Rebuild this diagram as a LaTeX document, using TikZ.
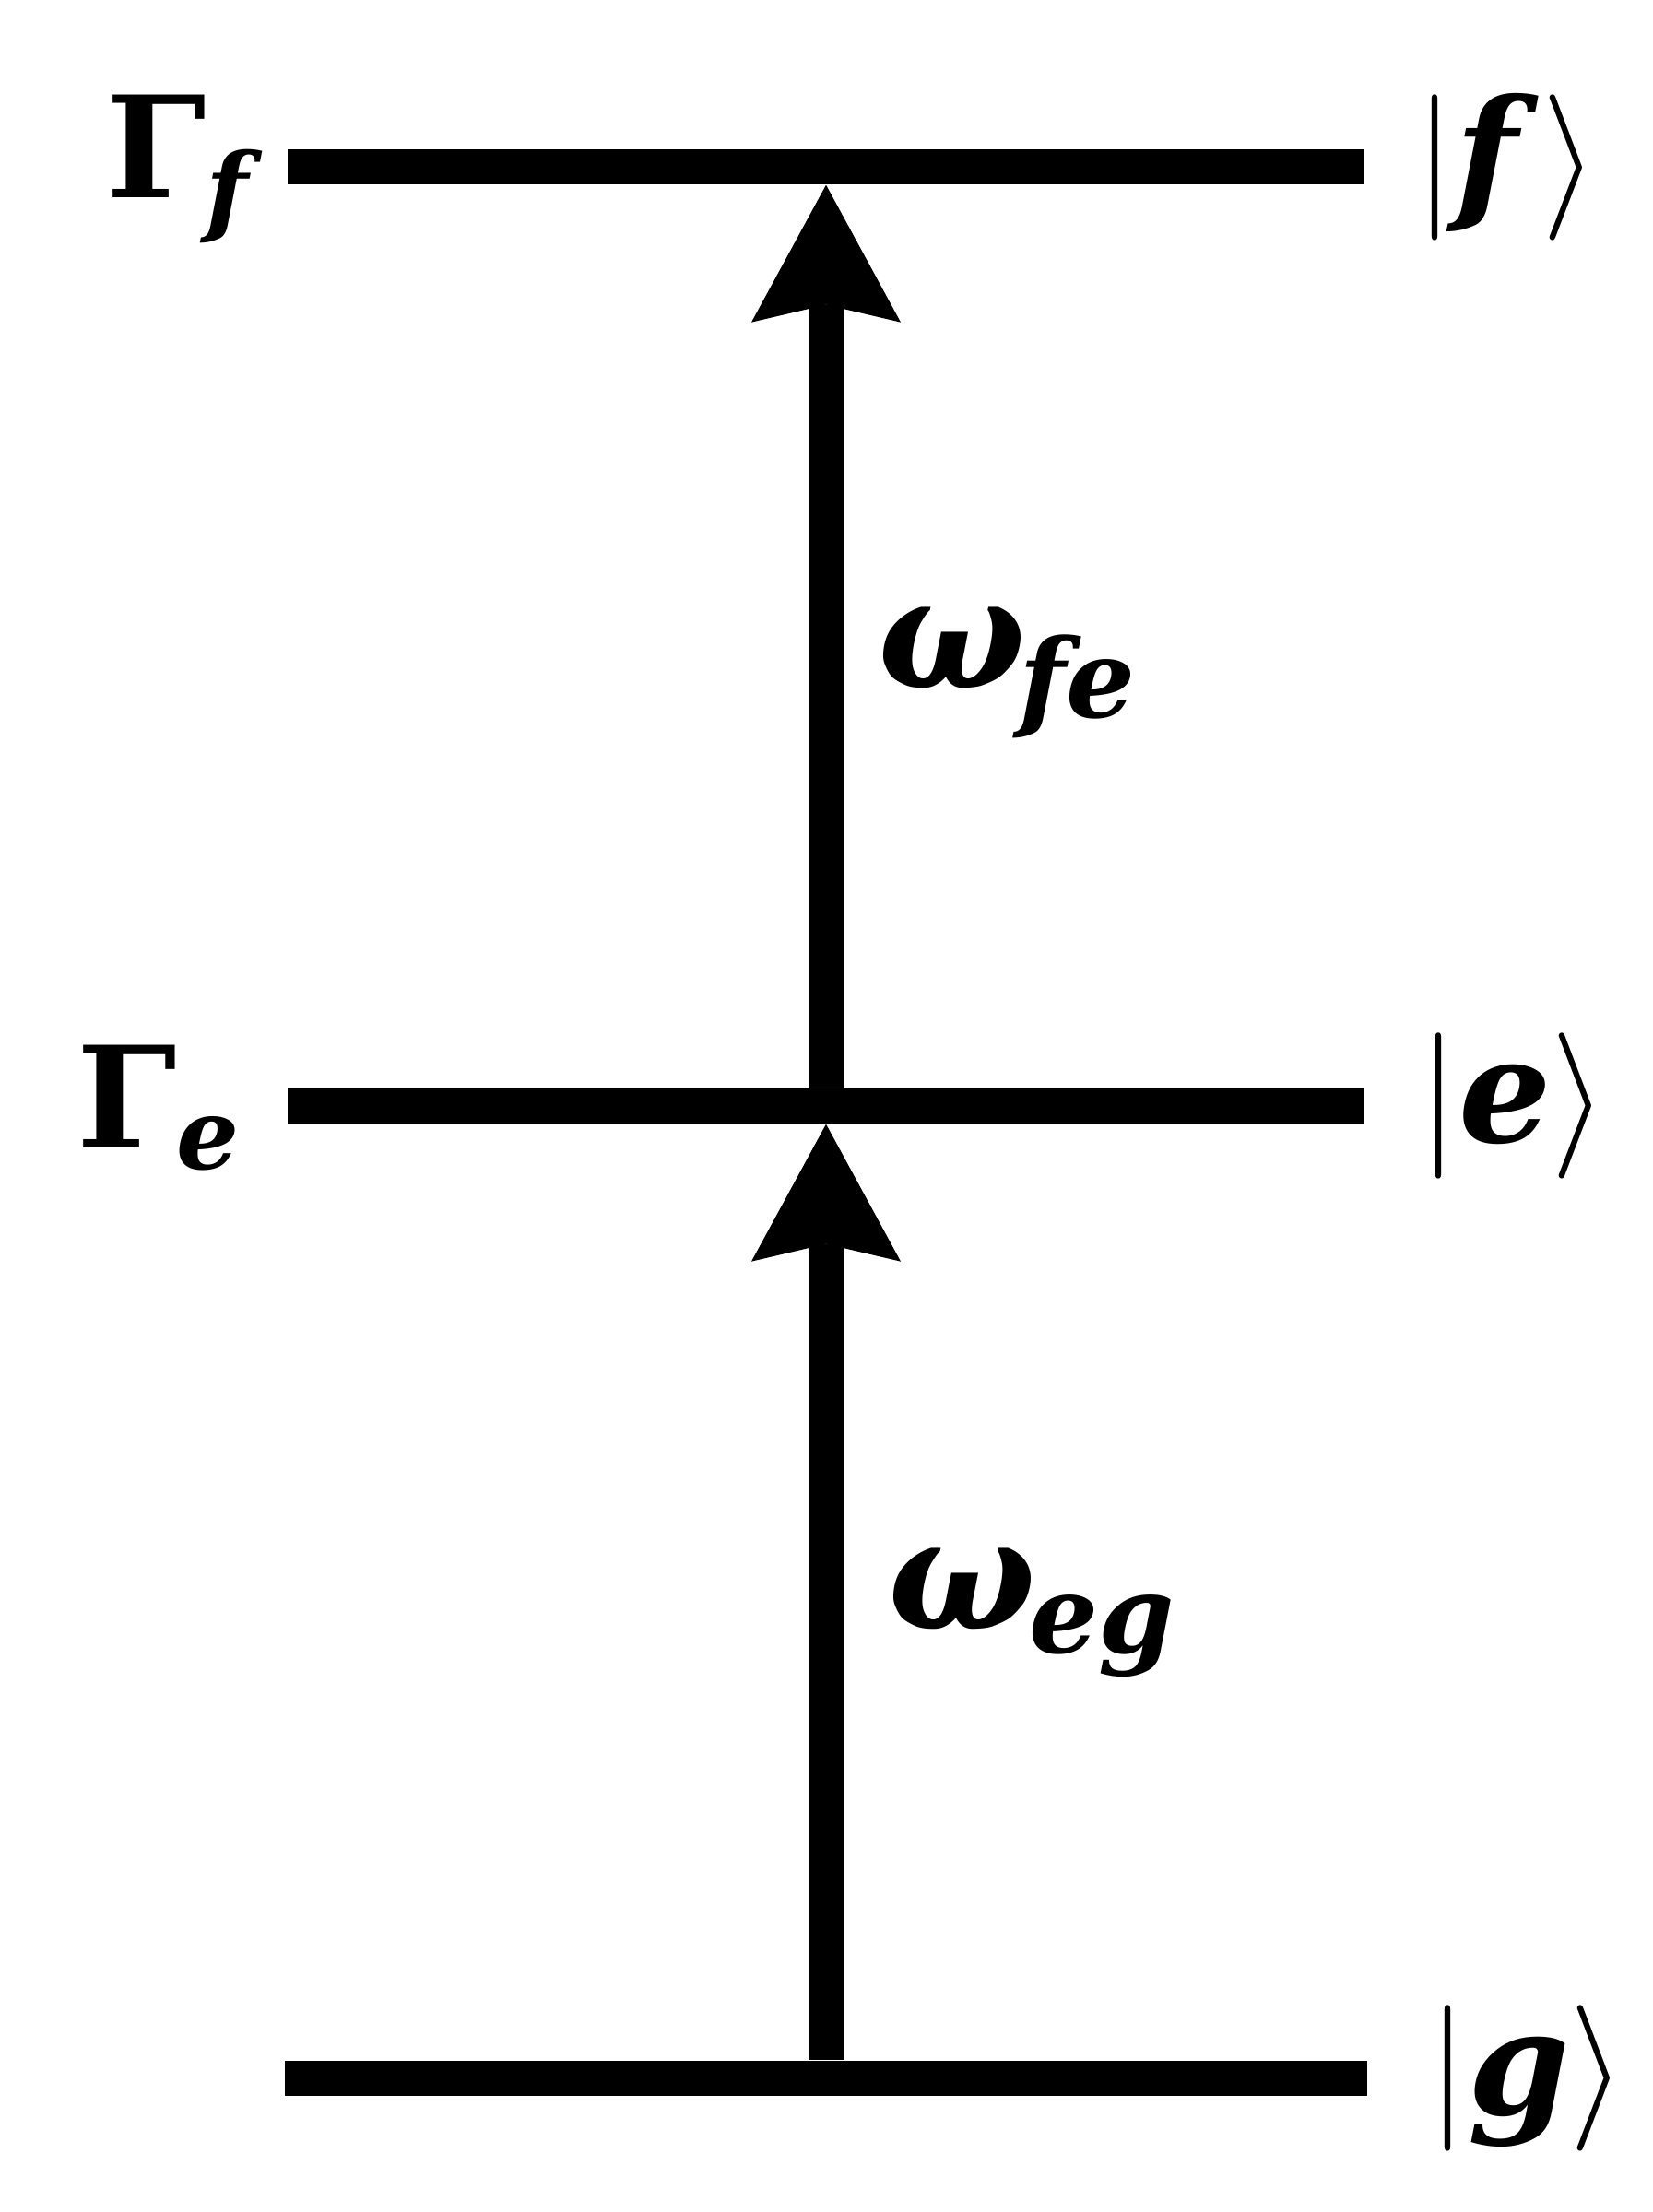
\documentclass[tikz,border=0pt]{standalone}
\usepackage{amsmath,amsbsy,amssymb}
\usepackage{tikz}
\usepackage{fontspec}
\setmainfont{DejaVu Serif}
\usetikzlibrary{arrows.meta}

\newcommand{\bsym}[1]{\text{\bfseries\itshape #1}}

\begin{document}
\begin{tikzpicture}[
        level/.style={fill=black, inner sep=0pt, minimum width=11.68cm, minimum height=0.38cm},
        trans/.style={line width=0.39cm, -{Stealth[length=1.49cm, width=1.62cm, inset=0.19cm, line width=0pt]}},
        ket/.style={anchor=west, inner sep=0pt, scale=4.5},
        decay/.style={anchor=base west, inner sep=0pt, scale=4.35},
        freq/.style={anchor=base west, inner sep=0pt, scale=4.8}]
        \useasboundingbox (0, 0) rectangle (17.92, 24);
        % levels
        \node[level] (f) at (8.96, 22.19) {};
        \node[level] (e) at (8.96, 12.00) {};
        \node[level, minimum width=11.74cm] (g) at (8.96, 1.45) {};
        % states and widths
        \node[ket] (ketf) at (15.31, 22.19) {$|\bsym{f}\mkern3mu\rangle$};
        \node[ket] (kete) at (15.35, 12.00) {$|\bsym{e}\rangle$};
        \node[ket] (ketg) at (15.45, 1.45) {$|\bsym{g}\rangle$};
        \node[decay] (gammaf) at (1.12, 21.85) {$\text{\bfseries Γ}_{\bsym{f}}$};
        \node[decay] (gammae) at (0.80, 11.54) {$\text{\bfseries Γ}_{\bsym{e}}$};
        % transitions
        \draw[trans] (g.north) -- (e.south);
        \draw[trans] (e.north) -- (f.south);
        \node[freq] (wfe) at (9.49, 16.53) {$\bsym{ω}_{\mkern-1mu\bsym{fe}}$};
        \node[freq] (weg) at (9.60, 6.32) {$\bsym{ω}_{\mkern-1mu\bsym{eg}}$};
    \end{tikzpicture}
\end{document}
